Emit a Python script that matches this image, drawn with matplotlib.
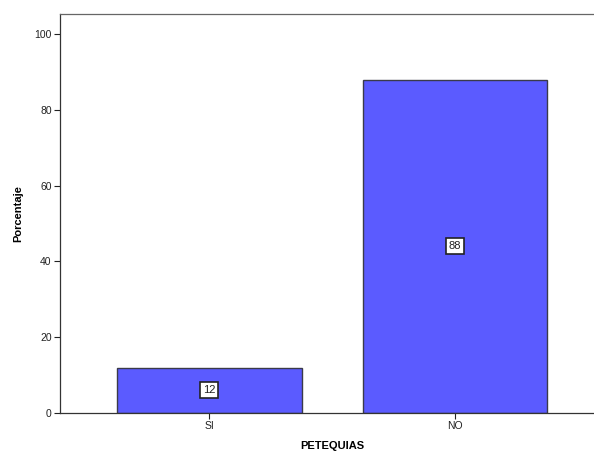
import matplotlib
matplotlib.use("Agg")
from matplotlib import pyplot as plt

plt.rcParams['font.family'] = ['Liberation Sans', 'DejaVu Sans']

# Porcentaje de pacientes con petequias
categorias = ['SI', 'NO']
porcentajes = [12, 88]
etiquetas = ['12', '88']

fig = plt.figure(figsize=(5.94, 4.54), dpi=100)
ax = fig.add_axes([60 / 594, 41 / 454, 545 / 594, 399 / 454])

x = range(len(categorias))
ax.bar(x, porcentajes, width=0.75, color='#5b5bff', edgecolor='#3a3a4a', linewidth=1.0, zorder=2)

# value boxes at half bar height
for xi, val, txt in zip(x, porcentajes, etiquetas):
    ax.text(xi, val / 2, txt, ha='center', va='center', fontsize=8, color='#222222',
            bbox=dict(boxstyle='square,pad=0.25', facecolor='white', edgecolor='#222222', linewidth=1.2),
            zorder=3)

ax.set_xlim(-0.608, 1.61)
ax.set_ylim(0, 105.3)
ax.set_xticks(list(x))
ax.set_xticklabels(categorias)
ax.set_yticks([0, 20, 40, 60, 80, 100])

ax.tick_params(axis='both', direction='out', length=4, width=0.8, labelsize=7.5, colors='#222222', pad=2)
for side in ['left', 'bottom', 'top', 'right']:
    ax.spines[side].set_color('#333333')
    ax.spines[side].set_linewidth(0.9)
ax.spines['top'].set_color('#666666')

ax.set_xlabel('PETEQUIAS', fontsize=8, fontweight='bold', labelpad=7)
ax.set_ylabel('Porcentaje', fontsize=8, fontweight='bold', labelpad=8)

fig.savefig('out.png', dpi=100)
